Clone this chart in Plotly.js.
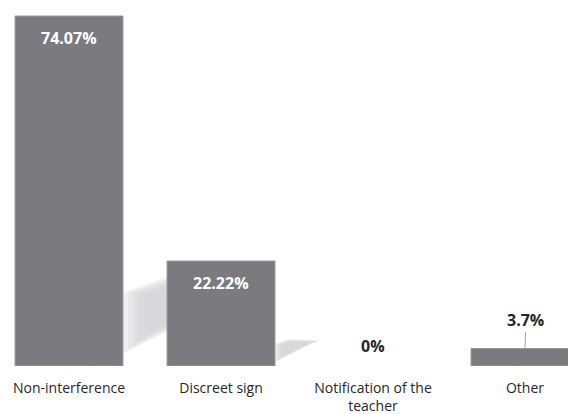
<!DOCTYPE html>
<html>
<head>
<meta charset="utf-8">
<script src="https://cdn.plot.ly/plotly-3.0.1.min.js"></script>
<style>html,body{margin:0;padding:0;background:#fff;}#chart{width:568px;height:414px;}</style>
</head>
<body>
<div id="chart"></div>
<script>
const categories = ["Non-interference", "Discreet sign", "Notification of the teacher", "Other"];
const tickLabels = ["Non-interference", "Discreet sign", "Notification of the<br>teacher", "Other"];
const values = [74.07, 22.22, 0, 3.7];
const valueLabels = ["74.07%", "22.22%", "0%", "3.7%"];
const labelInside = [true, true, false, false];

const xs = categories.map((c, i) => i);
const halfW = 0.355;
const FONT = "'Open Sans', 'Noto Sans', sans-serif";

// soft shadows behind bars (derived from bar values)
const shapes = [];
values.forEach((v, i) => {
  if (v < 10) return;
  const xR = i + halfW;
  const L = 0.0135 * v;
  const poly = [
    [xR, 0.035 * v],
    [xR, 0.21 * v],
    [xR + 0.3 * L, 0.255 * v],
    [xR + L, 0.245 * v],
    [xR + 0.75 * L, 0.2 * v]
  ];
  const cx = poly.reduce((a, q) => a + q[0], 0) / poly.length;
  const cy = poly.reduce((a, q) => a + q[1], 0) / poly.length;
  [1.0, 0.92, 0.84, 0.76, 0.66].forEach(s => {
    const p = poly.map(q => [cx + (q[0] - cx) * s, cy + (q[1] - cy) * s]);
    shapes.push({
      type: "path", xref: "x", yref: "y", layer: "below",
      path: "M " + p.map(q => q[0] + " " + q[1]).join(" L ") + " Z",
      fillcolor: "rgba(208,208,212,0.3)", line: {width: 0}
    });
  });
});

const annotations = values.map((v, i) => {
  const base = {x: i, y: v, xref: "x", yref: "y", text: "<b>" + valueLabels[i] + "</b>"};
  if (labelInside[i]) {
    return Object.assign(base, {showarrow: false, yanchor: "top", yshift: -9,
      font: {family: FONT, size: 16, color: "#ffffff"}});
  } else if (v === 0) {
    return Object.assign(base, {showarrow: false, yanchor: "bottom", yshift: 7,
      font: {family: FONT, size: 16, color: "#262626"}});
  }
  return Object.assign(base, {showarrow: true, arrowhead: 0, arrowwidth: 0.8, arrowcolor: "#8c8c8c",
    ax: 1, ay: -29, standoff: 0,
    font: {family: FONT, size: 16, color: "#262626"}});
});

const trace = {
  type: "bar",
  x: xs,
  y: values,
  width: 0.71,
  marker: {color: "#7b7b7f", line: {color: "#98989c", width: values.map(v => v > 0 ? 1 : 0)}},
  hoverinfo: "skip"
};

const layout = {
  width: 568, height: 414,
  margin: {l: 0, r: 0, t: 0, b: 48},
  paper_bgcolor: "#ffffff", plot_bgcolor: "#ffffff",
  showlegend: false,
  xaxis: {
    range: [-0.454, 3.283],
    tickmode: "array", tickvals: xs, ticktext: tickLabels,
    showgrid: false, zeroline: false, showline: false, ticks: "",
    ticklabelstandoff: 12,
    tickfont: {family: FONT, size: 14, color: "#262626"},
    fixedrange: true
  },
  yaxis: {
    range: [0, 77.46], visible: false, showgrid: false, zeroline: false, fixedrange: true
  },
  shapes: shapes,
  annotations: annotations
};

Plotly.newPlot("chart", [trace], layout, {displayModeBar: false, staticPlot: true});
</script>
</body>
</html>
